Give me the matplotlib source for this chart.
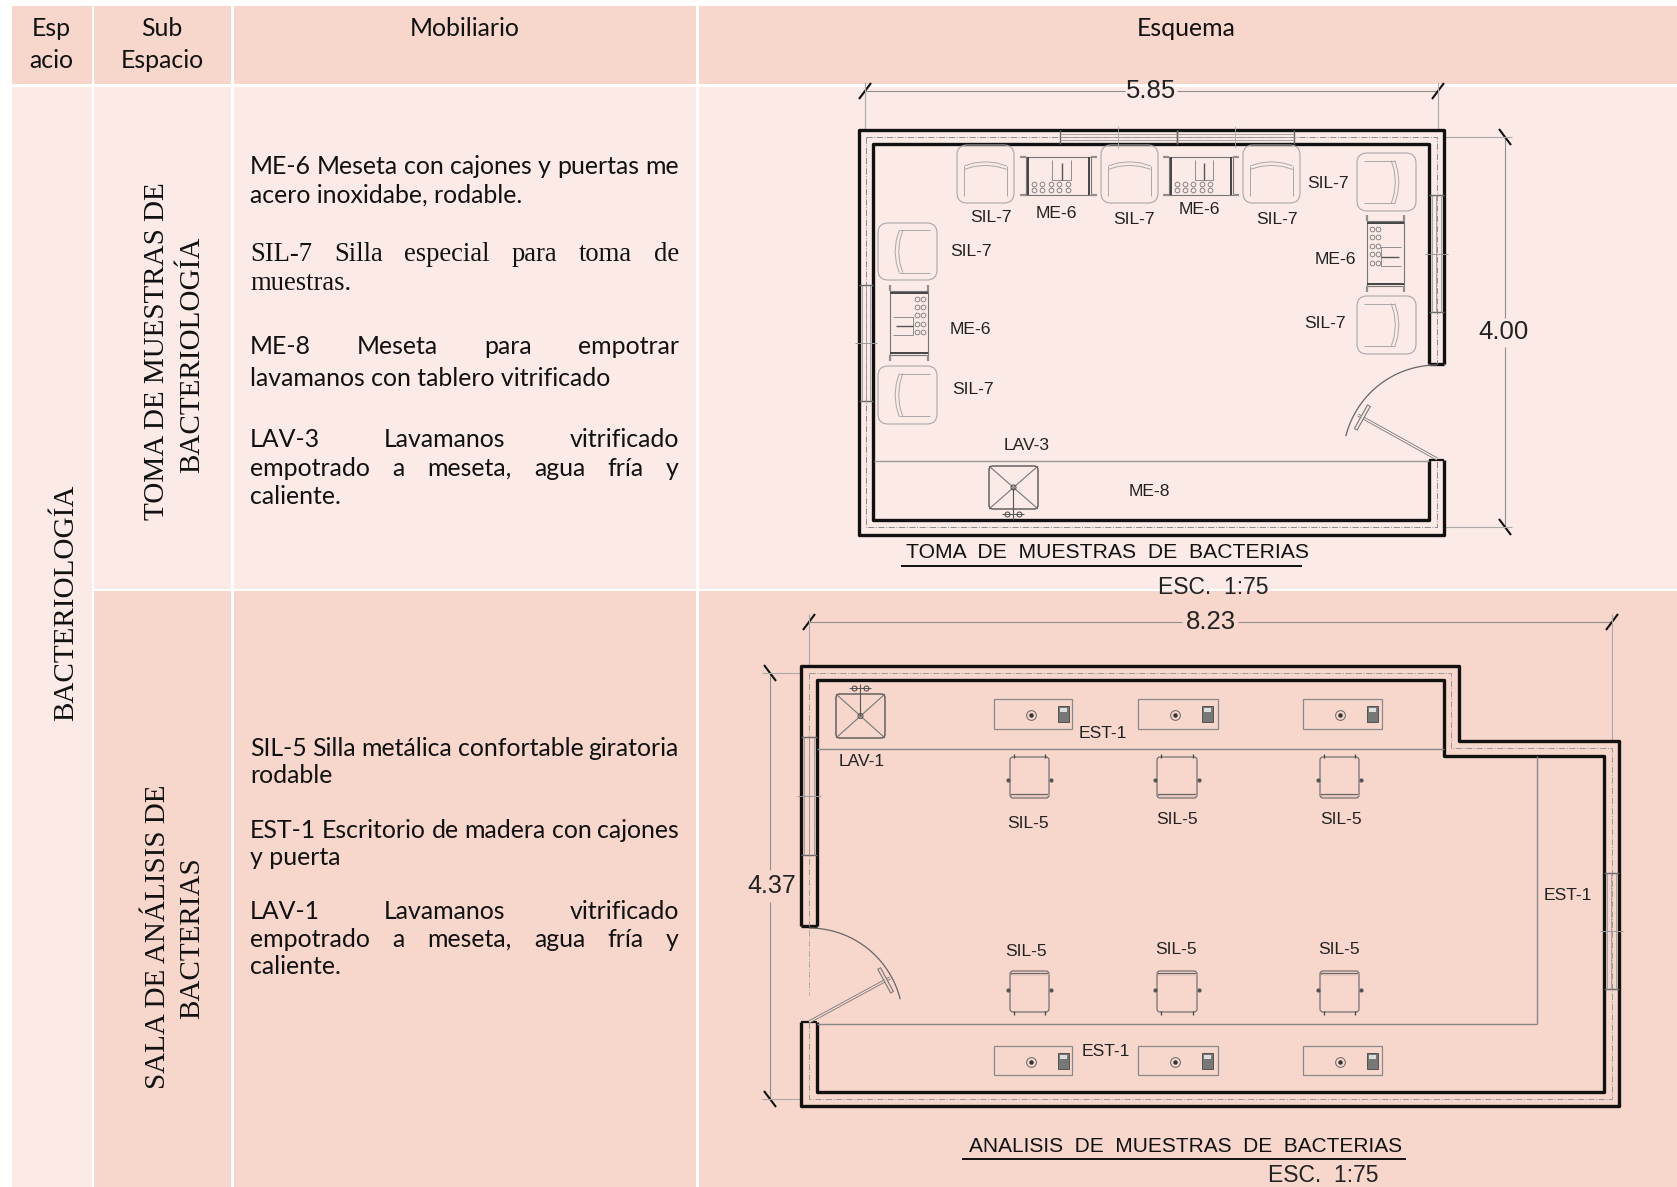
import numpy as np
import matplotlib
matplotlib.use("Agg")
import matplotlib.pyplot as plt
from matplotlib.patches import Rectangle, FancyBboxPatch, Circle

DARK = "#F7D6CC"
LIGHT = "#FBEAE6"
GREY = "#8f8f8f"
BLACK = "#111111"
SANS = "Lato"
SERIF = "Liberation Serif"
CAD = "Liberation Sans"

# tabla
col_edges = [(12, 92), (94.5, 231), (234, 696), (699, 1677)]
header_row = (6, 84)
row_one = (86.5, 588.5)
row_two = (591, 1187)

muebles_uno = [
    ("ME-6 Meseta con cajones y puertas me", 166, True, SANS),
    ("acero inoxidabe, rodable.", 195, False, SANS),
    ("SIL-7 Silla especial para toma de", 253, True, SERIF),
    ("muestras.", 282, False, SERIF),
    ("ME-8 Meseta para empotrar", 346, True, SANS),
    ("lavamanos con tablero vitrificado", 378, False, SANS),
    ("LAV-3 Lavamanos vitrificado", 439, True, SANS),
    ("empotrado a meseta, agua fría y", 468, True, SANS),
    ("caliente.", 496, False, SANS),
]
muebles_dos = [
    ("SIL-5 Silla metálica confortable giratoria", 748, True, SANS),
    ("rodable", 775, False, SANS),
    ("EST-1 Escritorio de madera con cajones", 830, True, SANS),
    ("y puerta", 857, False, SANS),
    ("LAV-1 Lavamanos vitrificado", 911, True, SANS),
    ("empotrado a meseta, agua fría y", 939, True, SANS),
    ("caliente.", 966, False, SANS),
]

# plano 1: toma de muestras
p1_outer = [(859, 130), (1444, 130), (1444, 535), (859, 535)]
p1_inner = [(873, 144), (1429, 144), (1429, 520), (873, 520)]
p1_chairs = [(957, 145, 1014, 203, "top"), (1101, 145, 1158, 203, "top"), (1243, 145, 1300, 203, "top"),
             (1357, 153, 1416, 211, "right"), (1357, 296, 1416, 354, "right"),
             (878, 223, 937, 280, "left"), (878, 366, 937, 424, "left")]
p1_tables = [(1020, 155, 1097, 197, "top"), (1163, 155, 1239, 197, "top"),
             (1365, 215, 1406, 292, "right"), (888, 285, 930, 361, "left")]
p1_labels = [("SIL-7", 991, 218), ("ME-6", 1056, 213), ("SIL-7", 1134, 219), ("ME-6", 1199, 210),
             ("SIL-7", 1277, 219), ("SIL-7", 1328, 183), ("ME-6", 1335, 259), ("SIL-7", 1325, 323),
             ("SIL-7", 971, 252), ("ME-6", 970, 329), ("SIL-7", 973, 390), ("LAV-3", 1027, 446),
             ("ME-8", 1149, 491)]

# plano 2: analisis de muestras
p2_outer = [(801, 666), (1459, 666), (1459, 741), (1619, 741), (1619, 1106), (801, 1106)]
p2_inner = [(817, 680), (1444, 680), (1444, 756), (1604, 756), (1604, 1092), (817, 1092)]
p2_center = [(809, 673), (1451, 673), (1451, 748), (1612, 748), (1612, 1099), (809, 1099)]
p2_desks_x = [(994, 1072), (1138, 1218), (1303, 1382)]
p2_desks_y = [(699, 729), (1046, 1075)]
p2_seats_x = [(1010, 1049), (1157, 1197), (1320, 1359)]
p2_seats_y = [(757, 798, "bottom"), (971, 1012, "top")]
p2_labels = [("SIL-5", 1028, 823), ("SIL-5", 1177, 819), ("SIL-5", 1341, 820),
             ("SIL-5", 1026, 952), ("SIL-5", 1176, 949), ("SIL-5", 1339, 950),
             ("EST-1", 1103, 734), ("EST-1", 1106, 1052), ("EST-1", 1568, 895), ("LAV-1", 862, 761)]

fig = plt.figure(figsize=(16.77, 11.87), dpi=100, facecolor="white")
ax = fig.add_axes([0, 0, 1, 1])
ax.set_xlim(0, 1677)
ax.set_ylim(1187, 0)
ax.axis("off")


def cell(x0, x1, y0, y1, color):
    ax.add_patch(Rectangle((x0, y0), x1 - x0, y1 - y0, fc=color, ec="none", zorder=1))


def line(xs, ys, color=GREY, lw=0.8, ls="-"):
    ax.plot(xs, ys, color=color, lw=lw, ls=ls, zorder=3, solid_capstyle="butt")


def justified(txt, x0, x1, yc, just, family):
    size = 17.9 if family == SANS else 19.2
    base = yc + 8
    if not just:
        ax.text(x0, base, txt, fontsize=size, family=family, color=BLACK, va="baseline", zorder=4)
        return
    words = txt.split()
    rend = fig.canvas.get_renderer()
    items = [ax.text(0, base, w, fontsize=size, family=family, color=BLACK, va="baseline", zorder=4)
             for w in words]
    widths = [t.get_window_extent(rend).width for t in items]
    gap = (x1 - x0 - sum(widths)) / (len(words) - 1)
    x = x0
    for t, w in zip(items, widths):
        t.set_x(x)
        x += w + gap


def place(x0, y0, x1, y1, side, pts):
    # pts en unidades 0-1, con el respaldo arriba; se gira segun el lado
    out = []
    for u, v in pts:
        if side == "top":
            a, b = u, v
        elif side == "bottom":
            a, b = u, 1 - v
        elif side == "left":
            a, b = v, u
        else:
            a, b = 1 - v, u
        out.append((x0 + a * (x1 - x0), y0 + b * (y1 - y0)))
    return list(zip(*out))


def chair(x0, y0, x1, y1, side):
    ax.add_patch(FancyBboxPatch((x0 + 5, y0 + 5), x1 - x0 - 10, y1 - y0 - 10, boxstyle="round,pad=5,rounding_size=10",
                                fc="none", ec="#a8a8a8", lw=0.8, zorder=3))
    for seg in ([(0.13, 0.36), (0.3, 0.31), (0.5, 0.29), (0.7, 0.31), (0.87, 0.36)],
                [(0.13, 0.42), (0.3, 0.37), (0.5, 0.35), (0.7, 0.37), (0.87, 0.42)],
                [(0.13, 0.36), (0.13, 0.88)], [(0.87, 0.36), (0.87, 0.88)]):
        xs, ys = place(x0, y0, x1, y1, side, seg)
        line(xs, ys, color="#a8a8a8", lw=0.7)


def meseta(x0, y0, x1, y1, side):
    for seg, c, w in (([(0.08, 0.04), (0.92, 0.04), (0.92, 0.96), (0.08, 0.96), (0.08, 0.04)], "#777777", 0.8),
                      ([(0.1, 0.04), (0.1, 0.96)], "#444444", 1.4), ([(0.9, 0.04), (0.9, 0.96)], "#444444", 1.4),
                      ([(0.0, 0.04), (0.08, 0.04)], GREY, 1.6), ([(0.92, 0.04), (1.0, 0.04)], GREY, 1.6),
                      ([(0.0, 0.96), (0.08, 0.96)], GREY, 1.6), ([(0.92, 0.96), (1.0, 0.96)], GREY, 1.6),
                      ([(0.42, 0.12), (0.42, 0.6), (0.66, 0.6), (0.66, 0.12)], GREY, 0.7),
                      ([(0.54, 0.18), (0.54, 0.6)], "#555555", 1.0)):
        xs, ys = place(x0, y0, x1, y1, side, seg)
        line(xs, ys, color=c, lw=w)
    for u in (0.18, 0.29, 0.4, 0.51, 0.62):
        for v in (0.68, 0.84):
            xs, ys = place(x0, y0, x1, y1, side, [(u, v)])
            ax.plot(xs, ys, "o", ms=3.4, mfc="none", mec="#777777", mew=0.6, zorder=3)


def sink(x0, y0, x1, y1, up):
    ax.add_patch(FancyBboxPatch((x0 + 3, y0 + 3), x1 - x0 - 6, y1 - y0 - 6, boxstyle="round,pad=3,rounding_size=4",
                                fc="none", ec="#555555", lw=1.0, zorder=3))
    line([x0, x1], [y0, y1], color="#777777")
    line([x0, x1], [y1, y0], color="#777777")
    xm, ym = (x0 + x1) / 2, (y0 + y1) / 2
    ax.add_patch(Circle((xm, ym), 2.5, fc="none", ec="#555555", lw=0.8, zorder=3))
    yf = y0 - 10 if up else y1 + 11
    ye = y0 - 6 if up else y1 + 5
    line([xm, xm], [ym, yf], color="#555555")
    line([xm - 11, xm + 11], [ye, ye], color="#555555", lw=0.7)
    for dx in (-6, 6):
        ax.plot([xm + dx], [ye], "o", ms=3.6, mfc="none", mec="#444444", mew=0.7, zorder=3)


def window_h(x0, x1, y0, y1):
    line([x0, x0], [y0, y1], color="#666666", lw=1.0)
    line([x1, x1], [y0, y1], color="#666666", lw=1.0)
    for y in (y0 + 4, (y0 + y1) / 2, y1 - 4):
        line([x0, x1], [y, y], color="#999999", lw=0.6)
    xm = (x0 + x1) / 2
    line([xm, xm], [y0 - 4, y1 + 4], color="#aaaaaa", lw=0.6)


def window_v(x0, x1, y0, y1):
    line([x0, x1], [y0, y0], color="#666666", lw=1.0)
    line([x0, x1], [y1, y1], color="#666666", lw=1.0)
    for x in (x0 + 3, (x0 + x1) / 2, x1 - 3):
        line([x, x], [y0, y1], color="#999999", lw=0.6)
    ym = (y0 + y1) / 2
    line([x0 - 4, x1 + 4], [ym, ym], color="#999999", lw=0.7)


def door(hx, hy, ex, ey, ang0, ang1, r=94):
    fondo = DARK if hy > 600 else LIGHT
    t = np.radians(np.linspace(ang0, ang1, 40))
    line(hx + r * np.cos(t), hy + r * np.sin(t), color="#666666", lw=0.9)
    largo = np.hypot(ex - hx, ey - hy)
    d = np.array([ex - hx, ey - hy]) / largo
    n = np.array([-d[1], d[0]])
    line([hx, ex], [hy, ey], color="#777777", lw=2.2)
    line([hx, ex], [hy, ey], color=fondo, lw=1.0)
    mx, my = hx + d[0] * (largo - 5), hy + d[1] * (largo - 5)
    line([mx - n[0] * 14, mx + n[0] * 14], [my - n[1] * 14, my + n[1] * 14], color="#777777", lw=3)
    line([mx - n[0] * 13, mx + n[0] * 13], [my - n[1] * 13, my + n[1] * 13], color=fondo, lw=1.4)


def tick(x, y):
    line([x - 6, x + 6], [y + 8, y - 8], color=BLACK, lw=1.5)


def tick_b(x, y):
    line([x - 6, x + 6], [y - 8, y + 8], color=BLACK, lw=1.5)


def cad_labels(items, size=12.6):
    for s, x, y in items:
        ax.text(x, y, s, fontsize=size, family=CAD, color="#222222", ha="center", va="center", zorder=5)


# fondos de la tabla
for (x0, x1) in col_edges:
    cell(x0, x1, *header_row, DARK)
cell(*col_edges[0], row_one[0], 1187, LIGHT)
for (x0, x1) in col_edges[1:]:
    cell(x0, x1, *row_one, LIGHT)
    cell(x0, x1, *row_two, DARK)

# encabezados
for s, x, y in [("Esp", 51, 29), ("acio", 51, 61), ("Sub", 162, 29), ("Espacio", 162, 61),
                ("Mobiliario", 465, 29), ("Esquema", 1186, 29)]:
    ax.text(x, y, s, fontsize=17.9, family=SANS, color=BLACK, ha="center", va="center", zorder=4)

# columnas giradas
for s, x, y in [("BACTERIOLOGÍA", 66, 603), ("TOMA DE MUESTRAS DE", 157, 351), ("BACTERIOLOGÍA", 192, 355),
                ("SALA DE ANÁLISIS DE", 158, 937), ("BACTERIAS", 192, 938)]:
    ax.text(x, y, s, fontsize=21, family=SERIF, color=BLACK, rotation=90, ha="center", va="center", zorder=4)

for txt, y, just, fam in muebles_uno + muebles_dos:
    justified(txt, 250, 679, y, just, fam)

# ---- plano 1 ----
for x0, x1 in [(865, 1125), (1177, 1438)]:
    line([x0, x1], [91, 91])
tick(865, 91)
tick(1438, 91)
line([865, 865], [82, 130], color="#aaaaaa")
line([1438, 1438], [82, 130], color="#aaaaaa")
ax.text(1151, 91, "5.85", fontsize=18.5, family=CAD, color="#222222", ha="center", va="center", zorder=5)
line([1505, 1505], [137, 318])
line([1505, 1505], [347, 527])
tick_b(1505, 137)
tick_b(1505, 527)
line([1444, 1512], [137, 137], color="#aaaaaa")
line([1444, 1512], [527, 527], color="#aaaaaa")
ax.text(1504, 332, "4.00", fontsize=18.5, family=CAD, color="#222222", ha="center", va="center", zorder=5)

# muro con hueco de puerta a la derecha
ox = [p[0] for p in p1_outer]
oy = [p[1] for p in p1_outer]
ix = [p[0] for p in p1_inner]
iy = [p[1] for p in p1_inner]
line([ox[2], ox[1], ox[0], ox[3], ox[2], ox[2]], [364, oy[0], oy[0], oy[2], oy[2], 460], color=BLACK, lw=2.4)
line([ix[2], ix[1], ix[0], ix[3], ix[2], ix[2]], [364, iy[0], iy[0], iy[2], iy[2], 460], color=BLACK, lw=2.4)
line([ix[2], ox[2]], [364, 364], color=BLACK, lw=2.4)
line([ix[2], ox[2]], [460, 460], color=BLACK, lw=1.6)
# eje del muro
line([866, 1437, 1437], [137, 137, 364], color="#8a8a8a", lw=0.7, ls="-.")
line([866, 866, 1437, 1437], [137, 527, 527, 460], color="#8a8a8a", lw=0.7, ls="-.")
window_h(1060, 1177, 130, 144)
window_h(1177, 1294, 130, 144)
window_v(859, 873, 285, 401)
window_v(1429, 1444, 195, 312)
line([874, 1429], [461, 461], color="#999999", lw=1.0)
door(1437, 459, 1358, 415, -90, -166)
sink(989, 466, 1038, 509, False)
for c in p1_chairs:
    chair(*c)
for m in p1_tables:
    meseta(*m)
cad_labels(p1_labels)
ax.text(1108, 552, "TOMA  DE  MUESTRAS  DE  BACTERIAS", fontsize=15.2, family=CAD, color="#111111",
        ha="center", va="center", zorder=5)
line([901, 1302], [566, 566], color=BLACK, lw=1.4)
# la linea blanca de la tabla pasa bajo este texto
ax.add_patch(Rectangle((94.5, 588.5), 1677, 2.5, fc="white", ec="none", zorder=2))
ax.text(1213, 588, "ESC.  1:75", fontsize=16.5, family=CAD, color="#222222", ha="center", va="center", zorder=5)

# ---- plano 2 ----
line([809, 1182], [622, 622])
line([1238, 1612], [622, 622])
tick(809, 622)
tick(1612, 622)
line([809, 809], [614, 666], color="#aaaaaa")
line([1612, 1612], [614, 741], color="#aaaaaa")
ax.text(1211, 622, "8.23", fontsize=18.5, family=CAD, color="#222222", ha="center", va="center", zorder=5)
line([770, 770], [673, 870])
line([770, 770], [902, 1099])
tick_b(770, 673)
tick_b(770, 1099)
line([762, 801], [673, 673], color="#aaaaaa")
line([762, 801], [1099, 1099], color="#aaaaaa")
t437 = ax.text(772, 886, "4.37", fontsize=18, family=CAD, color="#222222", ha="center", va="center", zorder=5)

ox = [p[0] for p in p2_outer]
oy = [p[1] for p in p2_outer]
ix = [p[0] for p in p2_inner]
iy = [p[1] for p in p2_inner]
line([801] + ox + [801], [926] + oy + [1022], color=BLACK, lw=2.4)
line([817] + ix + [817], [926] + iy + [1022], color=BLACK, lw=2.4)
line([801, 817], [926, 926], color=BLACK, lw=2.4)
line([801, 817], [1022, 1022], color=BLACK, lw=1.6)
cx = [p[0] for p in p2_center]
cy = [p[1] for p in p2_center]
line(cx + [809], cy + [1022], color="#9a9a9a", lw=0.7, ls="-.")
line([809, 809], [673, 926], color="#9a9a9a", lw=0.7, ls="-.")
line([809, 809], [930, 995], color="#aaaaaa", lw=0.7, ls="-.")
window_v(801, 817, 737, 855)
window_v(1604, 1619, 873, 989)
line([817, 1444], [749, 749], color="#888888", lw=1.0)
line([1537, 1537], [756, 1024], color="#888888", lw=1.0)
line([817, 1537], [1024, 1024], color="#888888", lw=1.0)
door(809, 1022, 890, 978, -90, -14)
sink(836, 694, 885, 738, True)
for (y0, y1) in p2_desks_y:
    for (x0, x1) in p2_desks_x:
        ax.add_patch(Rectangle((x0, y0), x1 - x0, y1 - y0, fc="none", ec="#8a8a8a", lw=0.9, zorder=3))
        ym = (y0 + y1) / 2
        ax.plot([x0 + 37], [ym + 1], "o", ms=7, mfc="none", mec="#666666", mew=0.7, zorder=3)
        ax.plot([x0 + 37], [ym + 1], "o", ms=2.2, color="#333333", zorder=3)
        ax.add_patch(Rectangle((x0 + 64, ym - 8), 11, 16, fc="#777777", ec="#444444", lw=0.6, zorder=3))
        ax.add_patch(Rectangle((x0 + 66, ym - 6), 7, 4, fc="#dddddd", ec="none", zorder=3))
for (y0, y1, side) in p2_seats_y:
    for (x0, x1) in p2_seats_x:
        ax.add_patch(FancyBboxPatch((x0 + 2, y0 + 2), x1 - x0 - 4, y1 - y0 - 4, boxstyle="round,pad=2,rounding_size=3",
                                    fc="none", ec="#666666", lw=0.8, zorder=3))
        yb = y1 - 3 if side == "bottom" else y0 + 3
        line([x0 + 1, x1 - 1], [yb, yb], color="#666666", lw=1.6)
        line([x0 + 1, x1 - 1], [yb, yb], color=DARK, lw=0.6)
        ym = (y0 + y1) / 2 + (2 if side == "bottom" else -2)
        for xx in (x0 - 2, x1 + 2):
            ax.plot([xx], [ym], "o", ms=2, color="#555555", zorder=3)
        yt = y0 - 1 if side == "bottom" else y1 + 1
        for xx in (x0 + 4, x1 - 4):
            line([xx, xx], [yt - 2, yt + 2], color="#444444", lw=0.9)
cad_labels(p2_labels)
ax.text(1186, 1146, "ANALISIS  DE  MUESTRAS  DE  BACTERIAS", fontsize=15, family=CAD, color="#111111",
        ha="center", va="center", zorder=5)
line([962, 1406], [1159, 1159], color=BLACK, lw=1.4)
ax.text(1323, 1176, "ESC.  1:75", fontsize=16.5, family=CAD, color="#222222", ha="center", va="center", zorder=5)

fig.savefig("out.png", dpi=100, facecolor="white")
